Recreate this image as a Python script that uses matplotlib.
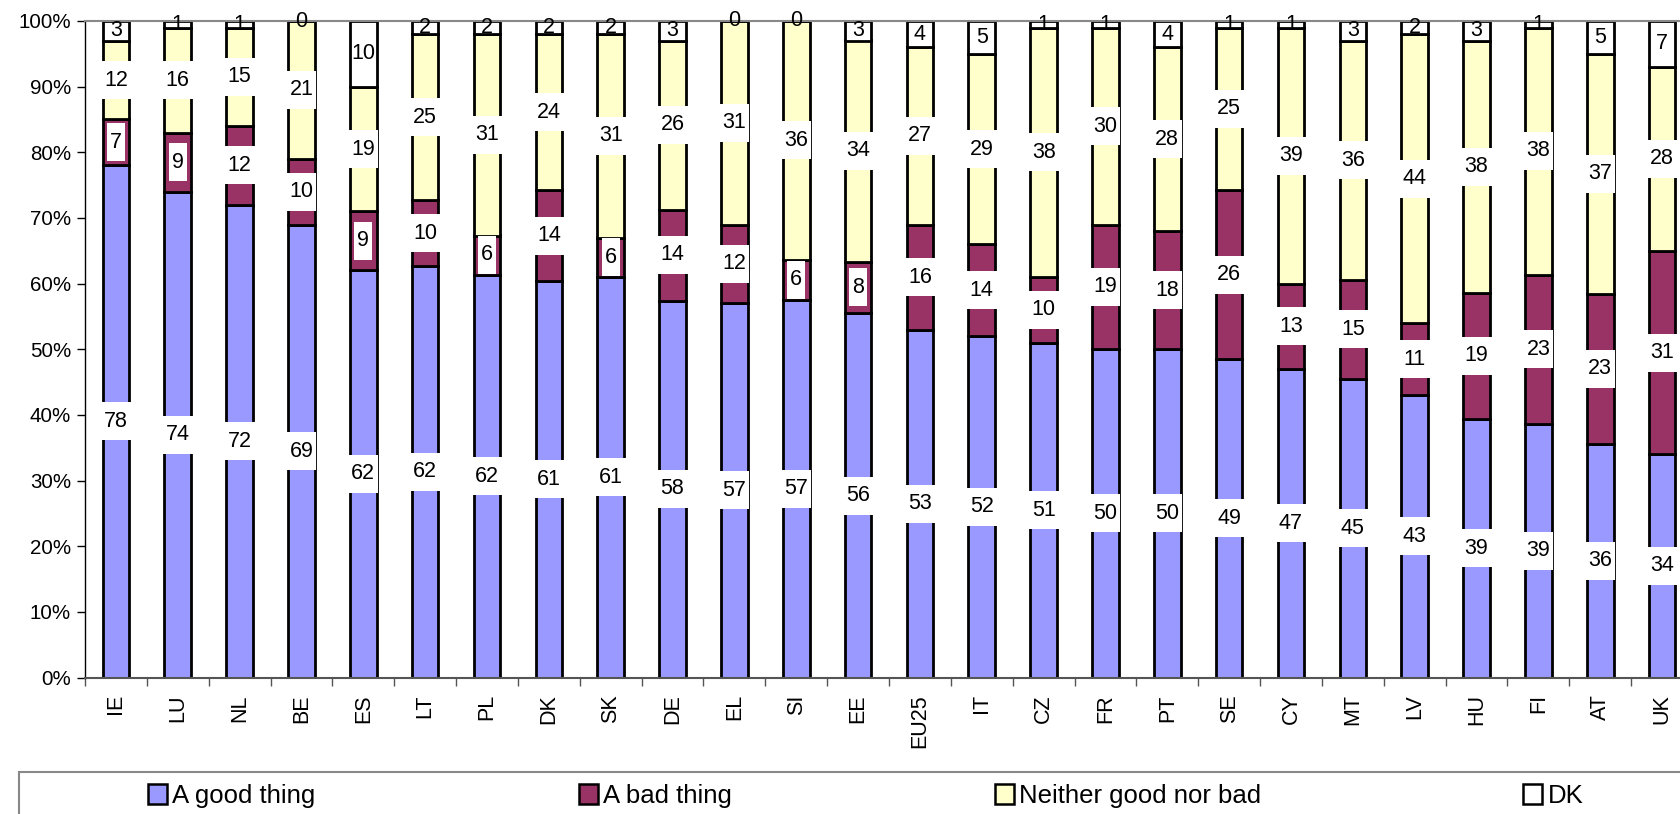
import matplotlib
matplotlib.use('Agg')
import matplotlib.pyplot as plt
import numpy as np
import pandas as pd
from matplotlib.patches import Rectangle, Patch
from matplotlib.ticker import PercentFormatter

plt.rcParams['font.family'] = ['Liberation Sans', 'DejaVu Sans']

countries = ['IE', 'LU', 'NL', 'BE', 'ES', 'LT', 'PL', 'DK', 'SK', 'DE', 'EL', 'SI', 'EE',
             'EU25', 'IT', 'CZ', 'FR', 'PT', 'SE', 'CY', 'MT', 'LV', 'HU', 'FI', 'AT', 'UK']
good = [78, 74, 72, 69, 62, 62, 62, 61, 61, 58, 57, 57, 56, 53, 52, 51, 50, 50, 49, 47, 45, 43, 39, 39, 36, 34]
bad = [7, 9, 12, 10, 9, 10, 6, 14, 6, 14, 12, 6, 8, 16, 14, 10, 19, 18, 26, 13, 15, 11, 19, 23, 23, 31]
neither = [12, 16, 15, 21, 19, 25, 31, 24, 31, 26, 31, 36, 34, 27, 29, 38, 30, 28, 25, 39, 36, 44, 38, 38, 37, 28]
dk = [3, 1, 1, 0, 10, 2, 2, 2, 2, 3, 0, 0, 3, 4, 5, 1, 1, 4, 1, 1, 3, 2, 3, 1, 5, 7]

series = ['A good thing', 'A bad thing', 'Neither good nor bad', 'DK']
colors = ['#9999FF', '#993366', '#FFFFCC', '#FFFFFF']

df = pd.DataFrame({'A good thing': good, 'A bad thing': bad,
                   'Neither good nor bad': neither, 'DK': dk}, index=countries)
share = df.div(df.sum(axis=1), axis=0)

W, H = 1681, 814
ax_l, ax_r, ax_t, ax_b = 85, 1693, 21, 677.5
fig = plt.figure(figsize=(W / 100, H / 100), dpi=100)
ax = fig.add_axes([ax_l / W, 1 - ax_b / H, (ax_r - ax_l) / W, (ax_b - ax_t) / H])

n = len(countries)
px_x = (ax_r - ax_l) / n      # pixels per category
px_y = ax_b - ax_t            # pixels per 100%
fs = 15.5

x = np.arange(n)
bottom = np.zeros(n)
for name, col in zip(series, colors):
    vals = share[name].values
    ax.bar(x, vals, 0.43, bottom=bottom, color=col, edgecolor='black', linewidth=2, zorder=2)
    for xi, b, v, raw in zip(x, bottom, vals, df[name].values):
        yc = b + v / 2
        lab = str(raw)
        if name != 'DK':
            # white label background, Excel style
            bw = (len(lab) * 0.556 * fs * 100 / 72 + 6) / px_x
            bh = 38 / px_y
            ax.add_patch(Rectangle((xi - bw / 2, yc - bh / 2), bw, bh, facecolor='white',
                                   edgecolor='none', zorder=3))
        ax.text(xi, yc, lab, ha='center', va='center', fontsize=fs, zorder=4)
    bottom += vals

ax.set_ylim(0, 1)
ax.set_xlim(-0.5, n - 0.5)
ax.set_yticks(np.arange(0, 1.01, 0.1))
ax.yaxis.set_major_formatter(PercentFormatter(1.0, decimals=0))
ax.tick_params(axis='y', labelsize=14.8, length=6, width=1, direction='out', pad=4)
ax.set_xticks(x)
ax.set_xticklabels(countries, rotation=90, fontsize=15.5)
ax.set_xticks(np.arange(-0.5, n, 1), minor=True)
ax.tick_params(axis='x', which='major', length=0, pad=12)
ax.tick_params(axis='x', which='minor', length=6, width=1, color='#555555')
ax.spines['right'].set_visible(False)
ax.spines['top'].set_color('#888888')
ax.spines['top'].set_linewidth(1.5)
ax.spines['left'].set_linewidth(1)
ax.spines['bottom'].set_color('#555555')
ax.spines['bottom'].set_linewidth(1.5)

# legend box
fig.patches.append(Rectangle((19 / W, -0.05), 1.2, (814 - 772) / H + 0.05, transform=fig.transFigure,
                             facecolor='white', edgecolor='#888888', linewidth=1.5))
leg_x = [148, 579, 995, 1523]
for name, col, lx in zip(series, colors, leg_x):
    fig.legend(handles=[Patch(facecolor=col, edgecolor='black', linewidth=1.8, label=name)],
               loc='center left', bbox_to_anchor=(lx / W, 1 - 796 / H), frameon=False,
               fontsize=18.5, handlelength=0.75, handleheight=0.8, handletextpad=0.2,
               borderpad=0, borderaxespad=0)

fig.savefig('out.png', dpi=100)
